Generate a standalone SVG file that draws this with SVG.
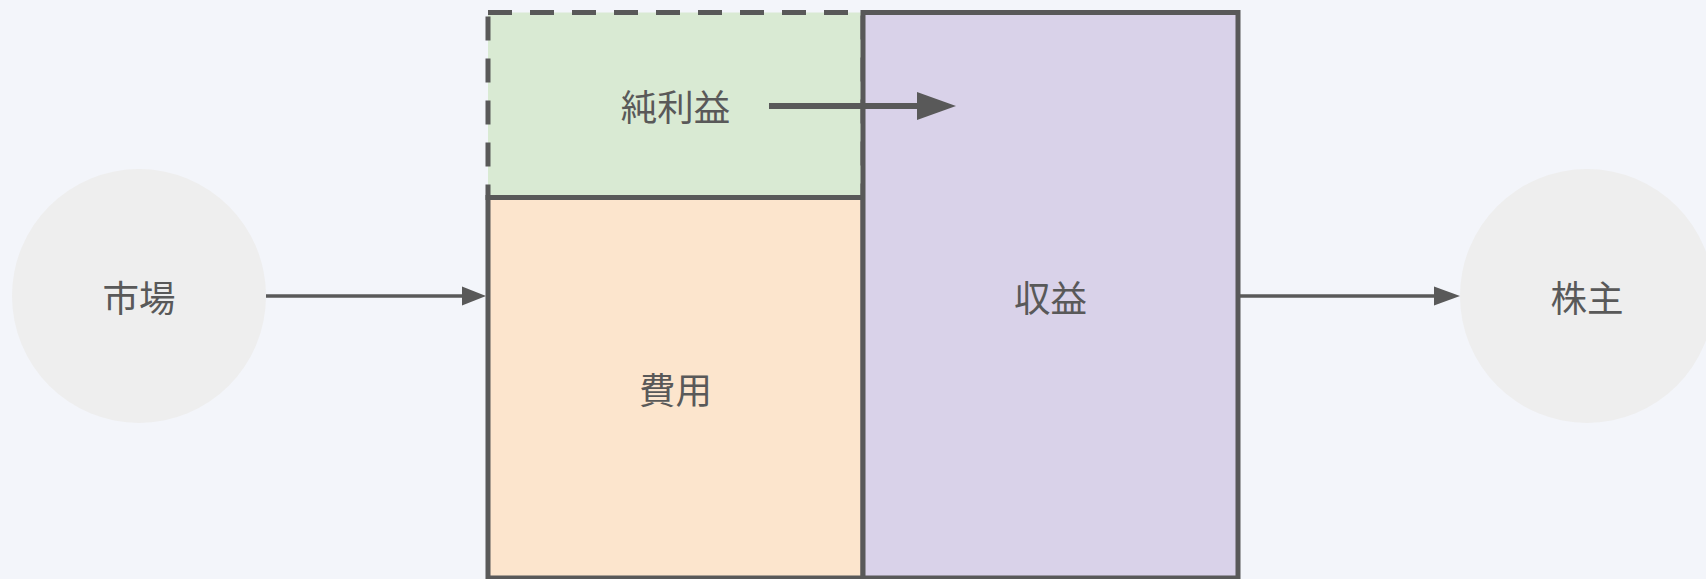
<svg xmlns="http://www.w3.org/2000/svg" width="1706" height="579" viewBox="0 0 1706 579">
<style>
.lbl{font-family:"Noto Sans CJK JP","Noto Sans",sans-serif;font-size:36.5px;fill:#595959;text-anchor:middle;dominant-baseline:central}
.box{stroke:#595959;stroke-width:5}
.ext{fill:#eeeeee}
.conn{stroke:#595959;fill:none}
.head{fill:#595959}
</style>
<rect x="0" y="0" width="1706" height="579" fill="#f3f5fa"/>
<g id="market">
<circle class="ext" cx="139" cy="296" r="127"/>
<text class="lbl" x="139" y="296">市場</text>
</g>
<g id="shareholders">
<circle class="ext" cx="1587" cy="296" r="127"/>
<text class="lbl" x="1587" y="296">株主</text>
</g>
<g id="net-profit">
<rect x="488" y="12.5" width="375" height="185" fill="#d9ead3" stroke="#595959" stroke-width="5" stroke-dasharray="24 18"/>
<text class="lbl" x="675.5" y="105">純利益</text>
</g>
<g id="expenses">
<rect class="box" x="488" y="197.5" width="375" height="380.5" fill="#fce5cd"/>
<text class="lbl" x="675.5" y="388">費用</text>
</g>
<g id="revenue">
<rect class="box" x="863" y="12.5" width="375" height="565.5" fill="#d9d2e9"/>
<text class="lbl" x="1050.5" y="296">収益</text>
</g>
<g id="connectors">
<line class="conn" x1="266" y1="296" x2="463" y2="296" stroke-width="3.5"/>
<polygon class="head" points="462,286.5 486,296 462,305.5"/>
<line class="conn" x1="1240" y1="296" x2="1435" y2="296" stroke-width="3.5"/>
<polygon class="head" points="1434,286.5 1460,296 1434,305.5"/>
<line class="conn" x1="769" y1="106" x2="918" y2="106" stroke-width="6"/>
<polygon class="head" points="917,92 956,106 917,120"/>
</g>
</svg>
